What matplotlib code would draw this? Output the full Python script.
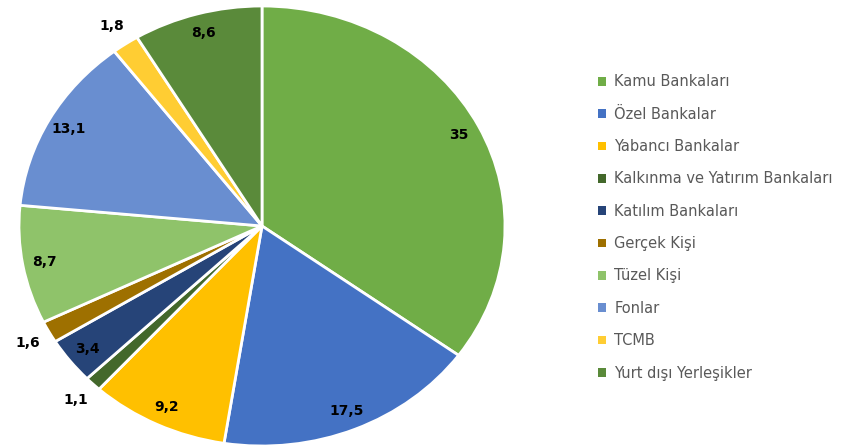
import numpy as np
import matplotlib
matplotlib.use('Agg')
import matplotlib.pyplot as plt
from matplotlib.patches import Patch

labels = ['Kamu Bankaları', 'Özel Bankalar', 'Yabancı Bankalar',
          'Kalkınma ve Yatırım Bankaları', 'Katılım Bankaları', 'Gerçek Kişi',
          'Tüzel Kişi', 'Fonlar', 'TCMB', 'Yurt dışı Yerleşikler']
values = [35, 17.5, 9.2, 1.1, 3.4, 1.6, 8.7, 13.1, 1.8, 8.6]
colors = ['#70AD47', '#4472C4', '#FFC000', '#43682B', '#264478', '#9E7000',
          '#8FC36A', '#698ED0', '#FFCD33', '#5A8A3A']

fig = plt.figure(figsize=(8.46, 4.46), dpi=100)
# pie axes stretched horizontally like the reference
ax = fig.add_axes([19 / 846, 0, 486 / 846, 440 / 446])

wedges, _ = ax.pie(values, colors=colors, startangle=90, counterclock=False,
                   radius=1, wedgeprops=dict(edgecolor='white', linewidth=2))
ax.set_aspect('auto')
ax.set_xlim(-1, 1)
ax.set_ylim(-1, 1)

# value labels: inside for big slices, outside for small ones
total = sum(values)
start = 0
for v in values:
    mid = start + v / 2
    start += v
    ang = np.deg2rad(90 - 360 * mid / total)
    r = 0.91 if v >= 3 else 1.10
    txt = ('%g' % v).replace('.', ',')
    ax.text(r * np.cos(ang), r * np.sin(ang), txt, ha='center', va='center',
            fontsize=10, fontweight='bold', color='black')

handles = [Patch(facecolor=c, edgecolor='none') for c in colors]
fig.legend(handles, labels, loc='center left', bbox_to_anchor=(585 / 846, 0.49),
           frameon=False, fontsize=10.5, labelcolor='#595959',
           handlelength=0.55, handleheight=0.55, handletextpad=0.55,
           labelspacing=1.19)

fig.savefig('out.png', dpi=100)
